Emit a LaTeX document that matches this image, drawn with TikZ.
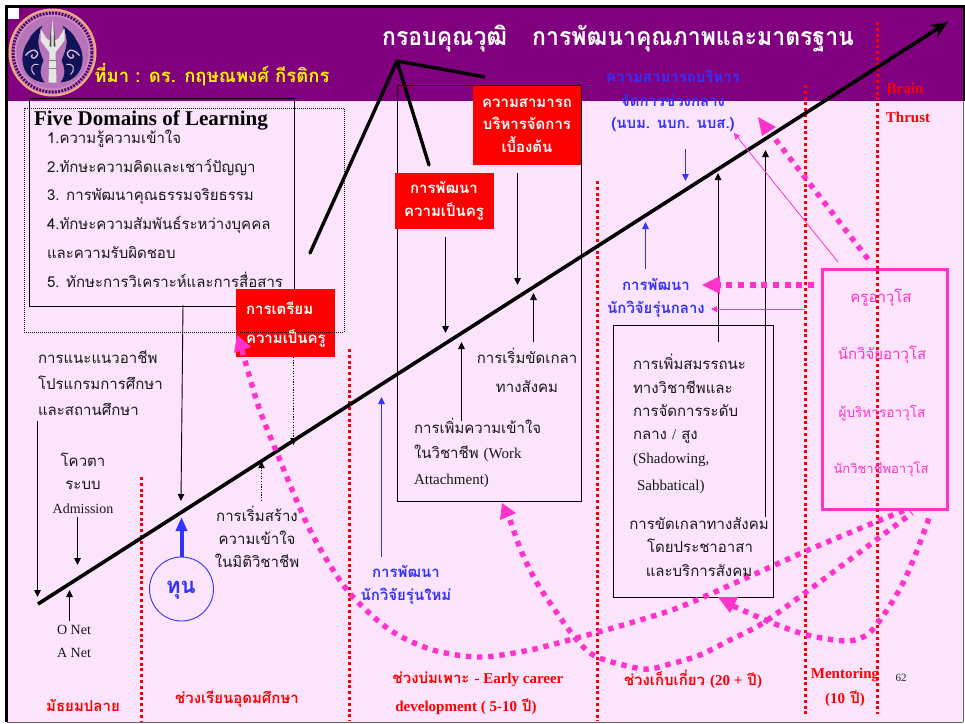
\documentclass[tikz,border=0pt]{standalone}
\usepackage{fontspec}
\usetikzlibrary{arrows.meta,calc}
\setmainfont{Liberation Serif}
\newfontfamily\thf[Script=Thai]{Loma}
\newfontfamily\thfc[Script=Thai,FakeStretch=0.92]{Loma}
\newcommand{\lat}[1]{{\rmfamily #1}}
\definecolor{bgpink}{HTML}{FCE4FC}
\definecolor{hdr}{HTML}{800080}
\definecolor{hotp}{HTML}{FF33CC}
\definecolor{blu}{HTML}{3333FF}
\tikzset{
  every node/.style={inner sep=0pt,outer sep=0pt},
  th/.style={font=\fontsize{15}{15}\selectfont\thf,anchor=base,text=black!90},
  thl/.style={th,anchor=base west},
  en/.style={font=\fontsize{15}{15}\selectfont\rmfamily,anchor=base,text=black!90},
  thb/.style={font=\fontsize{15}{15}\selectfont\thf\bfseries,anchor=base},
  redlbl/.style={thb,text=red},
  blulbl/.style={thb,text=blu},
  whitelbl/.style={thb,text=white},
  seniorlbl/.style={font=\fontsize{15}{15}\selectfont\thf,anchor=base,text=hotp},
  redbox/.style={fill=red,anchor=north west},
  framebox/.style={draw=black,line width=0.9pt,anchor=north west},
  thinarr/.style={draw=black,line width=0.9pt,-{Triangle[length=7pt,width=6.5pt]}},
  bluarr/.style={draw=blu,line width=0.9pt,-{Triangle[length=7pt,width=6.5pt]}},
  dotarr/.style={draw=black,line width=0.9pt,dash pattern=on 1.2pt off 1.5pt,-{Triangle[length=7pt,width=6.5pt,fill=black,line width=0pt,sep=0pt]}},
  pinkarr/.style={draw=hotp,line width=0.8pt,-{Triangle[length=6pt,width=6pt]}},
  redvert/.style={draw=red,line width=2.2pt,dash pattern=on 3pt off 2.8pt},
  pinkdash/.style={draw=hotp,line width=5.4pt,dash pattern=on 5.4pt off 5.8pt},
  apexline/.style={draw=black,line width=3.4pt},
}
\begin{document}
\begin{tikzpicture}[x=1pt,y=-1pt]
\useasboundingbox (0,0) rectangle (965,723);
% ---------- ground
\fill[white] (0,0) rectangle (965,723);
\fill[bgpink] (7,7) rectangle (963,722);
\fill[hdr] (7,7) rectangle (963,101);
\draw[black!60,line width=0.8pt] (7,722) -- (963,722);
\fill[black] (5,5) rectangle (965,8);
\fill[black] (5,5) rectangle (8,722);
\fill[black] (963,5) rectangle (965,101);
\fill[black!60] (963,101) rectangle (964,722);
\fill[white] (8,8) rectangle (19,19);
% ---------- logo
\begin{scope}[shift={(52.5,52.5)}]
  \fill[black!15!orange!55!white] (0,0) circle (44);
  \fill[hdr!45!white] (0,0) circle (42);
  \draw[black!30!hdr,line width=3pt,dash pattern=on 2pt off 1.2pt] (0,0) circle (39.5);
  \fill[hdr!55!white] (0,0) circle (36);
  \fill[blu!35!black] (-8,30) .. controls (-30,28) and (-36,5) .. (-24,-12) .. controls (-22,-18) and (-15,-24) .. (-10,-27) .. controls (-17,-12) and (-14,-4) .. (-9,8) .. controls (-12,14) and (-14,22) .. (-8,30);
  \fill[blu!35!black] (8,30) .. controls (30,28) and (36,5) .. (24,-12) .. controls (22,-18) and (15,-24) .. (10,-27) .. controls (17,-12) and (14,-4) .. (9,8) .. controls (12,14) and (14,22) .. (8,30);
  \draw[white!75!hdr,line width=1.3pt] (-27,3) .. controls (-20,-6) and (-12,-2) .. (-16,4) .. controls (-19,8) and (-23,4) .. (-20,2);
  \draw[white!75!hdr,line width=1.3pt] (27,3) .. controls (20,-6) and (12,-2) .. (16,4) .. controls (19,8) and (23,4) .. (20,2);
  \draw[white!75!hdr,line width=1pt] (-18,22) .. controls (-24,16) and (-20,10) .. (-14,12);
  \draw[white!75!hdr,line width=1pt] (18,22) .. controls (24,16) and (20,10) .. (14,12);
  \fill[black!10] (-4,30) -- (-3,0) -- (-12,-12) -- (-12,-24) -- (-6,-14) -- (-2,-12) -- (0,-33) -- (2,-12) -- (6,-14) -- (12,-24) -- (12,-12) -- (3,0) -- (4,30) -- cycle;
  \fill[black!70] (-1.5,-28) -- (-3,-6) -- (-1,-6) -- cycle;
  \fill[black!70] (1.5,-28) -- (3,-6) -- (1,-6) -- cycle;
  \draw[black!50,line width=0.8pt] (-4,8) -- (4,8) (-4,16) -- (4,16);
\end{scope}
% ---------- boxes
\node[framebox,minimum width=264.5pt,minimum height=208pt] (fivebox) at (29.5,98.5) {};
\node[framebox,minimum width=184pt,minimum height=416pt] (midbox) at (397.5,85.5) {};
\node[framebox,minimum width=160pt,minimum height=272pt] (harvestbox) at (613.5,325.5) {};
\node[draw=hotp,line width=3.4pt,anchor=north west,minimum width=125pt,minimum height=240pt] (seniorbox) at (822.5,269.5) {};
% ---------- red vertical period separators
\coordinate (v1a) at (141.5,477); \coordinate (v1b) at (141.5,721);
\coordinate (v2a) at (349.5,349); \coordinate (v2b) at (349.5,721);
\coordinate (v3a) at (597.5,181); \coordinate (v3b) at (597.5,721);
\coordinate (v4a) at (805.5,85);  \coordinate (v4b) at (805.5,716);
\coordinate (v5a) at (877.5,22);  \coordinate (v5b) at (877.5,714);
\foreach \n in {1,2,3,4,5} \draw[redvert] (v\n a) -- (v\n b);
% ---------- apex lines
\coordinate (apex) at (397,61);
\coordinate (apexA) at (310,253);
\coordinate (apexB) at (429,165);
\coordinate (apexC) at (485,77);
\draw[apexline,line cap=round,line join=round] (apexA) -- (apex) -- (apexB);
\draw[apexline] (apex) -- (apexC);
% ---------- spine
\coordinate (spineA) at (38,604);
\coordinate (spineB) at (948,22);
\draw[black,line width=3.6pt,-{Stealth[length=17pt,width=14pt]}] (spineA) -- (spineB);
% ---------- red boxes
\node[redbox,minimum width=99pt,minimum height=68pt] (prepbox) at (236,289) {};
\node[redbox,minimum width=99pt,minimum height=56pt] (devbox) at (395,173) {};
\node[redbox,minimum width=108pt,minimum height=79pt] (mgmtbox) at (473,86) {};
% ---------- dotted frame
\node[draw=black,line width=0.8pt,dash pattern=on 1pt off 1pt,anchor=north west,minimum width=320pt,minimum height=224pt] (dotbox) at (24,108) {};
% ---------- thin arrows
\coordinate (a1s) at (37.5,421); \coordinate (a1e) at (37.5,597);
\coordinate (a2s) at (77.5,517); \coordinate (a2e) at (77.5,565);
\coordinate (a3s) at (69.5,621); \coordinate (a3e) at (69.5,590);
\coordinate (a4s) at (183,305);  \coordinate (a4e) at (181,501);
\coordinate (a5s) at (445.5,237); \coordinate (a5e) at (445.5,333);
\coordinate (a6s) at (461.5,421); \coordinate (a6e) at (461.5,342);
\coordinate (a7s) at (517.5,173); \coordinate (a7e) at (517.5,285);
\coordinate (a8s) at (533.5,342); \coordinate (a8e) at (533.5,293);
\coordinate (a9s) at (718,342);  \coordinate (a9e) at (718,173);
\coordinate (a10s) at (765.5,517); \coordinate (a10e) at (765.5,150);
\foreach \n in {1,...,10} \draw[thinarr] (a\n s) -- (a\n e);
\coordinate (d1s) at (261.5,501); \coordinate (d1e) at (261.5,461);
\coordinate (d2s) at (293.5,357); \coordinate (d2e) at (293.5,445);
\draw[dotarr] (d1s) -- (d1e);
\draw[dotarr] (d2s) -- (d2e);
\coordinate (b1s) at (381.5,557); \coordinate (b1e) at (381.5,397);
\coordinate (b2s) at (685.5,149); \coordinate (b2e) at (685.5,181);
\coordinate (b3s) at (645.5,269); \coordinate (b3e) at (645.5,222);
\foreach \n in {1,2,3} \draw[bluarr] (b\n s) -- (b\n e);
% ---------- fund
\node[draw=blu,line width=0.9pt,circle,minimum size=64pt] (fund) at (181.5,589) {};
\node[blulbl,font=\fontsize{22}{22}\selectfont\thf\bfseries,anchor=center] at (181,590) {ทุน};
\coordinate (fundtop) at (181.5,517);
\draw[blu,line width=4pt,-{Triangle[length=14pt,width=11pt]}] (fund.north) -- (fundtop);
% ---------- pink thin
\coordinate (p1s) at (838,262); \coordinate (p1e) at (734,133);
\coordinate (p2s) at (805,309); \coordinate (p2e) at (711,309);
\draw[pinkarr] (p1s) -- (p1e);
\draw[pinkarr] (p2s) -- (p2e);
% ---------- pink dashed straight
\coordinate (q1s) at (814,285); \coordinate (q1e) at (720,285);
\draw[draw=hotp,line width=6pt,dash pattern=on 6pt off 5.7pt] (q1s) -- (q1e);
\fill[hotp] (702,285) -- (720,276) -- (720,294) -- cycle;
\coordinate (q2s) at (868,259); \coordinate (q2e) at (772,135);
\draw[pinkdash] (q2s) -- (q2e);
\fill[hotp] (758,117) -- (776,127) -- (762,136) -- cycle;
% ---------- pink dashed curves
\draw[pinkdash] plot[smooth] coordinates {(242,350) (258,405) (277,453) (310,530) (347,590) (390,630) (433,650) (480,657) (530,650) (580,637) (630,623) (680,607) (746,578) (813,548) (905,510)};
\fill[hotp] (234,353) -- (237,335) -- (251,347) -- cycle;
\draw[pinkdash] plot[smooth] coordinates {(510,520) (522,553) (537,583) (557,613) (577,640) (597,657) (643,669) (670,664) (700,655) (730,640) (763,623) (813,587) (860,552) (912,513)};
\fill[hotp] (502,503) -- (516,513) -- (500,520) -- cycle;
\draw[pinkdash] plot[smooth] coordinates {(733,606) (770,622) (807,635) (847,641) (868,634) (885,613) (903,583) (918,548) (930,515)};
\fill[hotp] (718,597) -- (738,597) -- (730,613) -- cycle;
% ---------- header text
\node[font=\fontsize{25}{25}\selectfont\thfc\bfseries,text=white,anchor=base] (title) at (618,45) {กรอบคุณวุฒิ\hspace{1em}การพัฒนาคุณภาพและมาตรฐาน};
\node[font=\fontsize{18.5}{18.5}\selectfont\thf\bfseries,text=yellow,anchor=base] (source) at (212,82) {ที่มา : ดร. กฤษณพงศ์ กีรติกร};
\node[font=\fontsize{21}{21}\selectfont\rmfamily\bfseries,text=black,anchor=base west] (fivetitle) at (34,125) {Five Domains of Learning};
% ---------- domains list
\node[thl] at (47,143) {1.ความรู้ความเข้าใจ};
\node[thl] at (47,172) {2.ทักษะความคิดและเชาว์ปัญญา};
\node[thl] at (47,200) {3. การพัฒนาคุณธรรมจริยธรรม};
\node[thl] at (47,229) {4.ทักษะความสัมพันธ์ระหว่างบุคคล};
\node[thl] at (47,258) {และความรับผิดชอบ};
\node[thl] at (47,287) {5. ทักษะการวิเคราะห์และการสื่อสาร};
% ---------- red box text
\node[whitelbl,anchor=base west] at (246,314) {การเตรียม};
\node[whitelbl,anchor=base west] at (246,343) {ความเป็นครู};
\node[whitelbl] at (444,193) {การพัฒนา};
\node[whitelbl] at (444,216) {ความเป็นครู};
\node[whitelbl] at (527,107) {ความสามารถ};
\node[whitelbl] at (527,129) {บริหารจัดการ};
\node[whitelbl] at (527,152) {เบื้องต้น};
% ---------- left column
\node[thl] at (38,363) {การแนะแนวอาชีพ};
\node[thl] at (38,389) {โปรแกรมการศึกษา};
\node[thl] at (38,415) {และสถานศึกษา};
\node[th] at (83,466) {โควตา};
\node[th] at (83,489) {ระบบ};
\node[en,font=\fontsize{14}{14}\selectfont\rmfamily] at (83,513) {Admission};
\node[en,font=\fontsize{14}{14}\selectfont\rmfamily] at (74,634) {O Net};
\node[en,font=\fontsize{14}{14}\selectfont\rmfamily] at (74,657) {A Net};
\node[th] at (257,521) {การเริ่มสร้าง};
\node[th] at (257,544) {ความเข้าใจ};
\node[th] at (257,567) {ในมิติวิชาชีพ};
\node[th] at (527,363) {การเริ่มขัดเกลา};
\node[th] at (527,392) {ทางสังคม};
\node[thl] at (414,433) {การเพิ่มความเข้าใจ};
\node[thl] at (414,458) {ในวิชาชีพ \lat{(Work}};
\node[en,anchor=base west] at (414,484) {Attachment)};
% ---------- harvest box text
\node[thl] at (633,369) {การเพิ่มสมรรถนะ};
\node[thl] at (633,393) {ทางวิชาชีพและ};
\node[thl] at (633,416) {การจัดการระดับ};
\node[thl] at (633,439) {กลาง \lat{/} สูง};
\node[en,anchor=base west] at (633,463) {(Shadowing,};
\node[en,anchor=base west] at (637,490) {Sabbatical)};
\node[th] at (699,529) {การขัดเกลาทางสังคม};
\node[th] at (700,552) {โดยประชาอาสา};
\node[th] at (699,576) {และบริการสังคม};
% ---------- blue labels
\node[blulbl] at (673,82) {ความสามารถบริหาร};
\node[blulbl] at (673,106) {จัดการช่วงกลาง};
\node[blulbl] at (673,128) {(นบม. นบก. นบส.)};
\node[blulbl] at (656,290) {การพัฒนา};
\node[blulbl] at (656,313) {นักวิจัยรุ่นกลาง};
\node[blulbl] at (406,577) {การพัฒนา};
\node[blulbl] at (406,600) {นักวิจัยรุ่นใหม่};
% ---------- senior labels
\node[seniorlbl] at (881,302) {ครูอาวุโส};
\node[seniorlbl] at (882,359) {นักวิจัยอาวุโส};
\node[seniorlbl,font=\fontsize{13.6}{13.6}\selectfont\thf] at (882,417) {ผู้บริหารอาวุโส};
\node[seniorlbl,font=\fontsize{13}{13}\selectfont\thf] at (881,473) {นักวิชาชีพอาวุโส};
% ---------- period labels
\node[redlbl] at (83,711) {มัธยมปลาย};
\node[redlbl] at (237,703) {ช่วงเรียนอุดมศึกษา};
\node[redlbl] at (478,683) {ช่วงบ่มเพาะ \lat{- Early career}};
\node[redlbl] at (466,711) {\lat{development ( 5-10} ปี\lat{)}};
\node[redlbl] at (693,685) {ช่วงเก็บเกี่ยว \lat{(20 +} ปี\lat{)}};
\node[redlbl] at (845,678) {\lat{Mentoring}};
\node[redlbl] at (845,703) {\lat{(10} ปี\lat{)}};
\node[redlbl] at (905,93) {\lat{Brain}};
\node[redlbl] at (908,122) {\lat{Thrust}};
\node[font=\fontsize{11}{11}\selectfont\rmfamily,anchor=base,text=black!85] at (901,681) {62};
\end{tikzpicture}
\end{document}
